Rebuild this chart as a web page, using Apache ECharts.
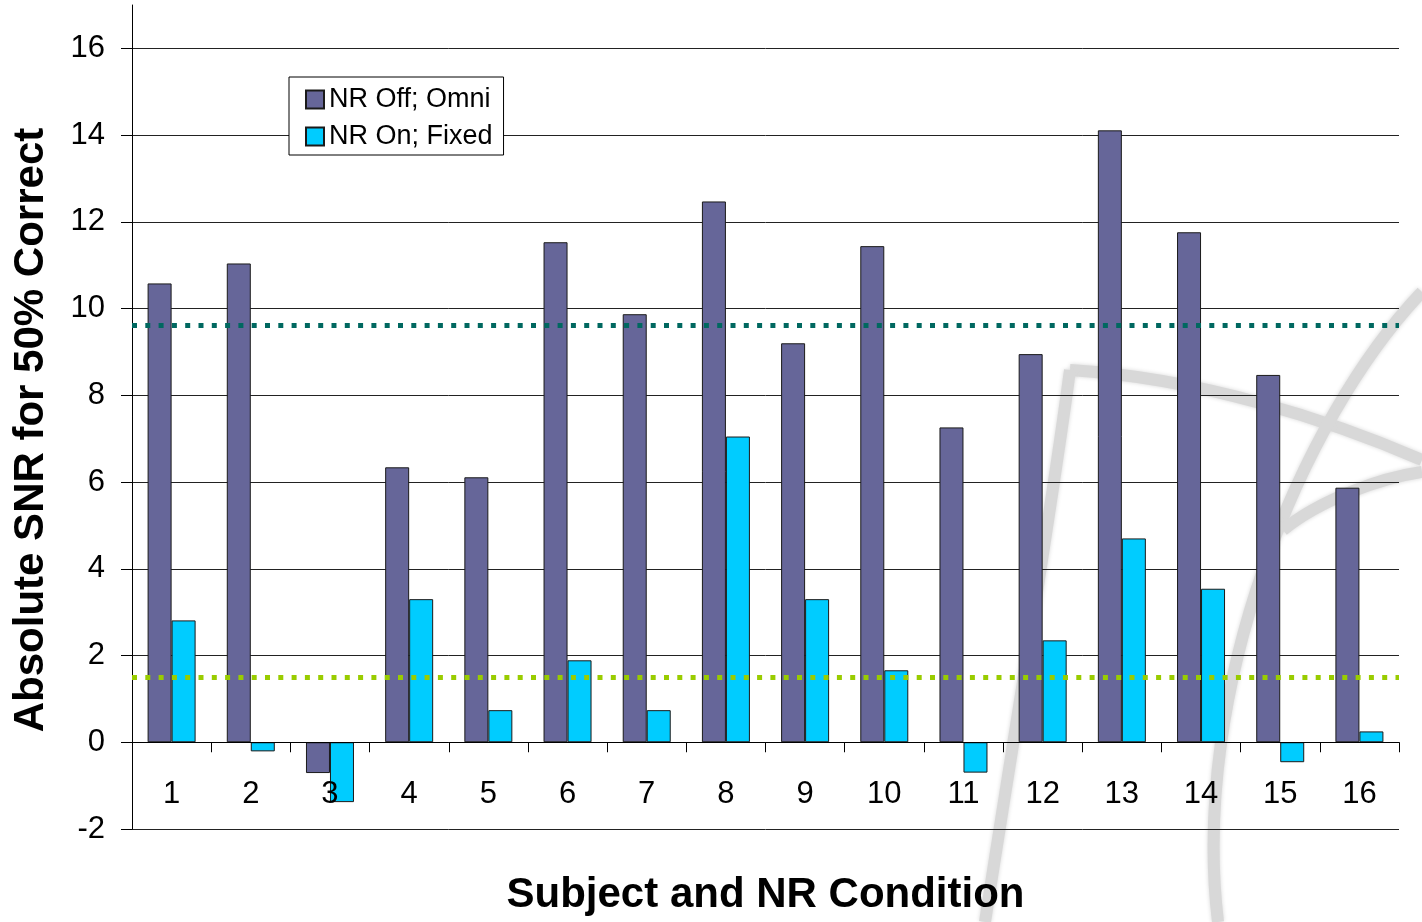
<!DOCTYPE html>
<html>
<head>
<meta charset="utf-8">
<title>Absolute SNR for 50% Correct</title>
<script src="https://cdn.jsdelivr.net/npm/echarts@6.0.0/dist/echarts.min.js"></script>
<style>
  html, body { margin: 0; padding: 0; background: #fff; }
  #chart { width: 1422px; height: 922px; }
</style>
</head>
<body>
<div id="chart"></div>
<script>
// data
const subjects = ['1', '2', '3', '4', '5', '6', '7', '8', '9', '10', '11', '12', '13', '14', '15', '16'];
const nrOffOmni = [10.58, 11.04, -0.71, 6.34, 6.11, 11.53, 9.87, 12.47, 9.20, 11.44, 7.26, 8.95, 14.11, 11.76, 8.47, 5.87];
const nrOnFixed = [2.81, -0.21, -1.38, 3.30, 0.74, 1.89, 0.74, 7.05, 3.30, 1.66, -0.70, 2.35, 4.70, 3.54, -0.46, 0.25];
const refLevels = [9.62, 1.51];
const refColors = ['#006860', '#99cc00'];
const yMin = -2;
const yMax = 17;
const yStep = 2;

const font = 'Liberation Sans, Arial, sans-serif';
const chart = echarts.init(document.getElementById('chart'));

// faint watermark curves in the lower right, kept behind the bars
const wmStyle = { stroke: '#d8d8d8', lineWidth: 12, fill: null, shadowBlur: 4, shadowColor: '#d8d8d8' };
const watermark = [
  { shape: { x1: 1070, y1: 370, cpx1: 1200, cpy1: 378, cpx2: 1330, cpy2: 420, x2: 1422, y2: 460 } },
  { shape: { x1: 1070, y1: 370, cpx1: 1050, cpy1: 520, cpx2: 1010, cpy2: 760, x2: 985, y2: 922 } },
  { shape: { x1: 1422, y1: 292, cpx1: 1300, cpy1: 420, cpx2: 1190, cpy2: 690, x2: 1218, y2: 922 } },
  { shape: { x1: 1283, y1: 530, cpx1: 1320, cpy1: 500, cpx2: 1380, cpy2: 478, x2: 1422, y2: 472 } }
].map(function (c) {
  return { type: 'bezierCurve', shape: c.shape, style: wmStyle, z: -1, silent: true };
});

const option = {
  animation: false,
  backgroundColor: '#fff',
  textStyle: { fontFamily: font },
  graphic: { z: -1, zlevel: 0, elements: watermark },
  grid: { left: 132, right: 23, top: 5, bottom: 93, outerBoundsMode: 'none' },
  legend: {
    orient: 'vertical',
    left: 289,
    top: 77,
    padding: [9, 11, 5, 16],
    itemWidth: 18,
    itemHeight: 18,
    itemGap: 10,
    borderColor: '#000',
    borderWidth: 1,
    backgroundColor: '#fff',
    icon: 'rect',
    textStyle: { fontSize: 27, color: '#000', fontFamily: font }
  },
  xAxis: {
    type: 'category',
    data: subjects,
    z: 20,
    name: 'Subject and NR Condition',
    nameLocation: 'middle',
    nameGap: 132,
    nameTextStyle: { fontSize: 42, fontWeight: 'bold', color: '#000', fontFamily: font },
    axisLine: { show: true, onZero: false, lineStyle: { color: '#000', width: 1 } },
    axisTick: { show: true, length: 10, lineStyle: { color: '#000' } },
    axisLabel: { fontSize: 31, color: '#000', margin: 37, fontFamily: font },
    splitLine: { show: false }
  },
  yAxis: {
    type: 'value',
    min: yMin,
    max: yMax,
    interval: yStep,
    name: 'Absolute SNR for 50% Correct',
    nameLocation: 'middle',
    nameGap: 80,
    nameTextStyle: { fontSize: 42, fontWeight: 'bold', color: '#000', fontFamily: font, padding: [0, 26, 0, 0] },
    axisLine: { show: true, lineStyle: { color: '#000', width: 1 } },
    axisTick: { show: true, length: 11, lineStyle: { color: '#000' } },
    axisLabel: { fontSize: 31, color: '#000', margin: 27, showMaxLabel: false, fontFamily: font },
    splitLine: { show: true, showMaxLine: false, lineStyle: { color: '#222', width: 1 } }
  },
  series: [
    {
      name: 'NR Off; Omni',
      type: 'bar',
      data: nrOffOmni,
      barWidth: 24,
      barGap: '0%',
      itemStyle: { color: '#666699', borderColor: '#1a1a1a', borderWidth: 1 },
      z: 10,
      markLine: {
        silent: true,
        symbol: 'none',
        label: { show: false },
        z: 12,
        data: refLevels.map(function (v, i) {
          return { yAxis: v, lineStyle: { color: refColors[i], width: 5, type: [5, 8.3] } };
        })
      }
    },
    {
      name: 'NR On; Fixed',
      type: 'bar',
      data: nrOnFixed,
      barWidth: 24,
      barGap: '0%',
      itemStyle: { color: '#00ccff', borderColor: '#1a1a1a', borderWidth: 1 },
      z: 10
    }
  ]
};

chart.setOption(option);

// put the category axis on the zero line (labels and name follow it)
const zeroY = chart.convertToPixel({ yAxisIndex: 0 }, 0);
const bottomY = chart.convertToPixel({ yAxisIndex: 0 }, yMin);
chart.setOption({ xAxis: { offset: zeroY - bottomY } });
</script>
</body>
</html>
